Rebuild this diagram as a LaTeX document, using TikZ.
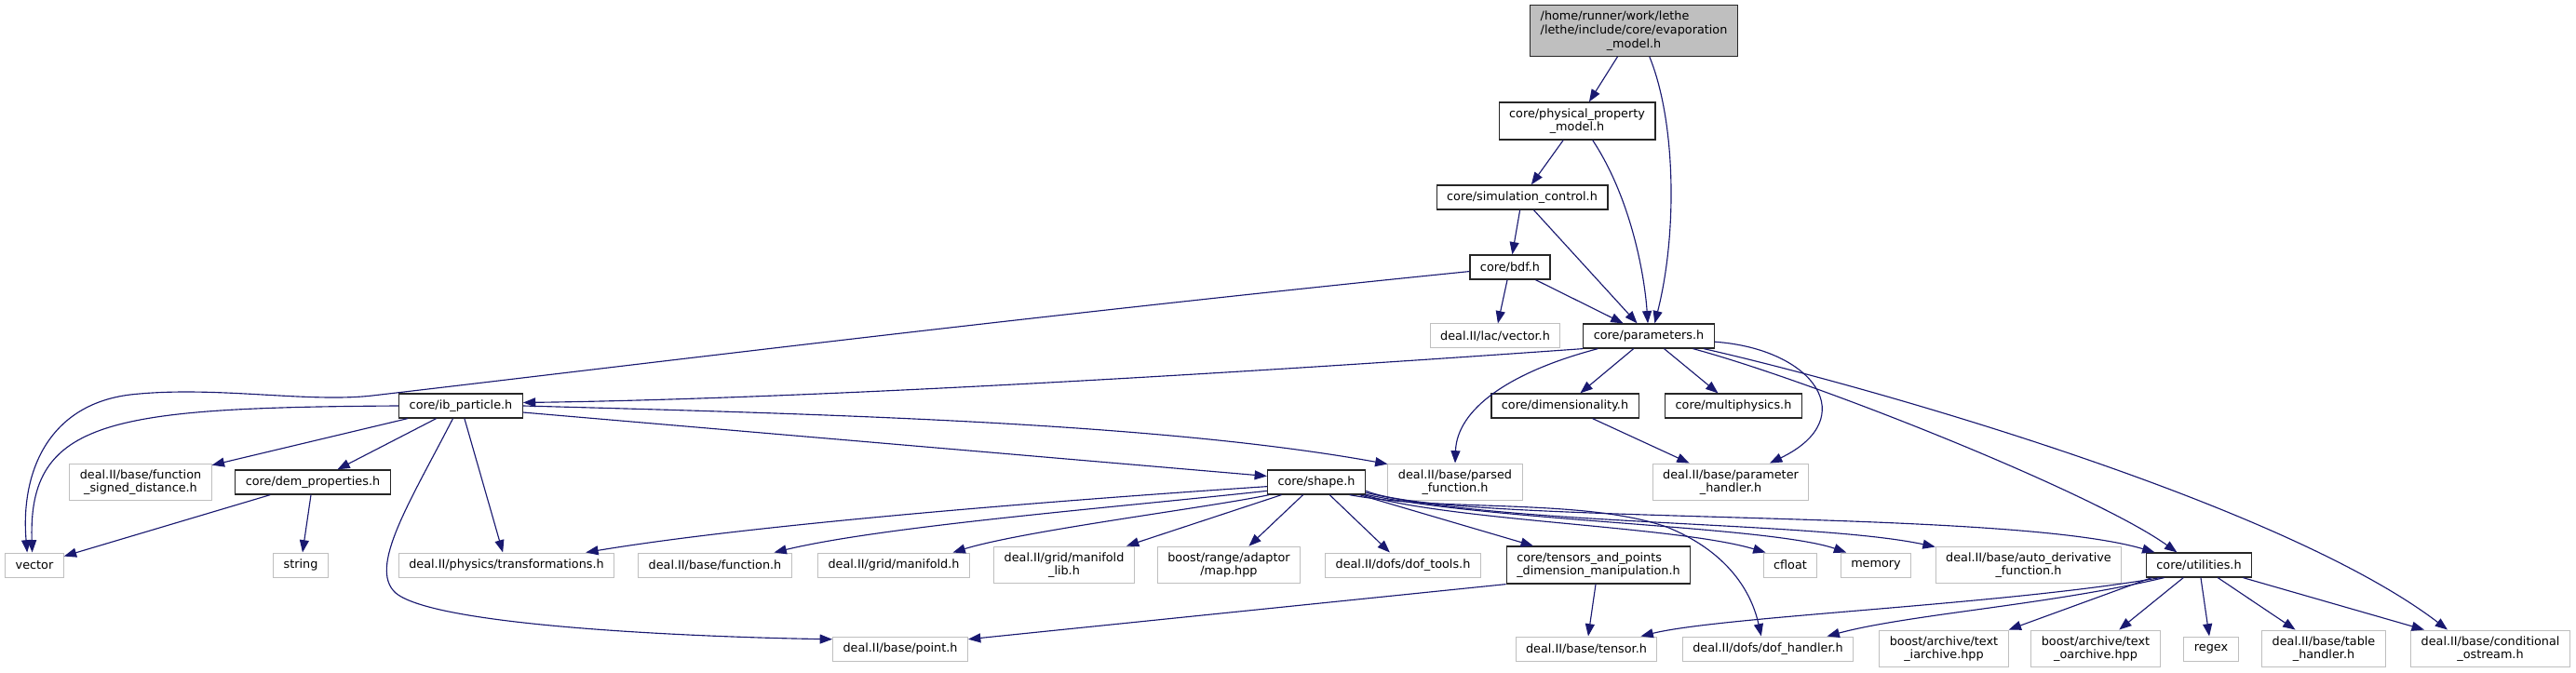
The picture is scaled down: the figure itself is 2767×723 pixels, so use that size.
\documentclass[tikz,border=0pt]{standalone}
\usepackage{fontspec}
\setmainfont{DejaVu Sans}
\usetikzlibrary{arrows.meta}
\definecolor{edgeblue}{RGB}{25,25,112}
\definecolor{extgray}{RGB}{191,191,191}
\definecolor{rootgray}{RGB}{191,191,191}

\begin{document}
\begin{tikzpicture}[
        x=0.75pt, y=-0.75pt,
        file/.style={draw, align=center, font=\fontsize{9.6}{11}\selectfont, inner xsep=8.25pt, inner ysep=4.7pt, minimum height=19.5pt, line width=0.75pt},
        box/.style={file, draw=black!85, line width=0.95pt},
        extbox/.style={file, draw=extgray},
        rootbox/.style={box, fill=rootgray},
        dep/.style={draw=edgeblue, line width=0.85pt, -{Triangle[length=10pt,width=7.5pt]}}
    ]
    \useasboundingbox (0,0) rectangle (2767,723);

    \node[rootbox] (evap) at (1755,33) {\rlap{/home/runner/work/lethe}\phantom{/lethe/include/core/evaporation}\\/lethe/include/core/evaporation\\\_model.h};
    \node[box] (physprop) at (1694,130) {core/physical\_property\\\_model.h};
    \node[box] (simctrl) at (1635,212) {core/simulation\_control.h};
    \node[box] (bdf) at (1622,287) {core/bdf.h};
    \node[extbox] (lacvec) at (1606,361) {deal.II/lac/vector.h};
    \node[box] (params) at (1771,361) {core/parameters.h};
    \node[box] (ibpart) at (495,436) {core/ib\_particle.h};
    \node[box] (dimen) at (1681,436) {core/dimensionality.h};
    \node[box] (multiph) at (1862,436) {core/multiphysics.h};
    \node[extbox] (fsd) at (151,518) {deal.II/base/function\\\_signed\_distance.h};
    \node[box] (demprop) at (336,518) {core/dem\_properties.h};
    \node[box] (shapeh) at (1414,518) {core/shape.h};
    \node[extbox] (parsedfn) at (1563,518) {deal.II/base/parsed\\\_function.h};
    \node[extbox] (paramhdl) at (1859,518) {deal.II/base/parameter\\\_handler.h};
    \node[extbox] (vector) at (37,607) {vector};
    \node[extbox] (string) at (323,607) {string};
    \node[extbox] (transf) at (544,607) {deal.II/physics/transformations.h};
    \node[extbox] (function) at (768,607) {deal.II/base/function.h};
    \node[extbox] (manifold) at (960,607) {deal.II/grid/manifold.h};
    \node[extbox] (manifoldlib) at (1143,607) {deal.II/grid/manifold\\\_lib.h};
    \node[extbox] (rangemap) at (1320,607) {boost/range/adaptor\\/map.hpp};
    \node[extbox] (doftools) at (1507,607) {deal.II/dofs/dof\_tools.h};
    \node[box] (tensorsdim) at (1717,607) {\rlap{core/tensors\_and\_points}\phantom{\_dimension\_manipulation.h}\\\_dimension\_manipulation.h};
    \node[extbox] (cfloat) at (1923,607) {cfloat};
    \node[extbox] (memory) at (2015,607) {memory};
    \node[extbox] (autoderiv) at (2179,607) {deal.II/base/auto\_derivative\\\_function.h};
    \node[box] (utilities) at (2362,607) {core/utilities.h};
    \node[extbox] (pointh) at (967,697) {deal.II/base/point.h};
    \node[extbox] (tensorh) at (1704,697) {deal.II/base/tensor.h};
    \node[extbox] (dofhandler) at (1899,697) {deal.II/dofs/dof\_handler.h};
    \node[extbox] (iarchive) at (2088,697) {boost/archive/text\\\_iarchive.hpp};
    \node[extbox] (oarchive) at (2251,697) {boost/archive/text\\\_oarchive.hpp};
    \node[extbox] (regex) at (2375,697) {regex};
    \node[extbox] (tablehdl) at (2496,697) {deal.II/base/table\\\_handler.h};
    \node[extbox] (condostream) at (2675,697) {deal.II/base/conditional\\\_ostream.h};

    \draw[dep] (evap) -- (physprop);
    \draw[dep] (evap.-59) .. controls (1800,130) and (1802,250) .. (params.65);
    \draw[dep] (physprop) -- (simctrl);
    \draw[dep] (physprop.-51) .. controls (1750,210) and (1766,290) .. (params.94);
    \draw[dep] (simctrl) -- (bdf);
    \draw[dep] (simctrl) -- (params);
    \draw[dep] (bdf) -- (lacvec);
    \draw[dep] (bdf) -- (params);
    \draw[dep] (bdf.186) .. controls (1100,340) and (700,390) .. (400,425) .. controls (330,433) and (230,414) .. (140,424) .. controls (50,435) and (22,510) .. (vector.120);
    \draw[dep] (params.south west) .. controls (1400,396) and (900,428) .. (ibpart.3);
    \draw[dep] (params.194) .. controls (1620,400) and (1565,440) .. (parsedfn.north);
    \draw[dep] (params) -- (dimen);
    \draw[dep] (params) -- (multiph);
    \draw[dep] (params.-5) .. controls (1950,375) and (2000,450) .. (paramhdl.26);
    \draw[dep] (params.-16) .. controls (1950,410) and (2250,530) .. (utilities.150);
    \draw[dep] (params.-13.5) .. controls (2000,413) and (2450,540) .. (condostream.156);
    \draw[dep] (dimen) -- (paramhdl);
    \draw[dep] (ibpart.west) .. controls (120,438) and (30,450) .. (vector.100);
    \draw[dep] (ibpart) -- (fsd);
    \draw[dep] (ibpart) -- (demprop);
    \draw[dep] (ibpart.-122) .. controls (440,540) and (395,610) .. (425,637) .. controls (470,675) and (780,685) .. (pointh.172);
    \draw[dep] (ibpart) -- (transf);
    \draw[dep] (ibpart.-6) -- (shapeh.173);
    \draw[dep] (ibpart.east) .. controls (900,445) and (1250,455) .. (parsedfn.165);
    \draw[dep] (demprop) -- (vector);
    \draw[dep] (demprop) -- (string);
    \draw[dep] (shapeh.185) .. controls (1100,540) and (800,565) .. (transf.9.5);
    \draw[dep] (shapeh.190) .. controls (1200,545) and (950,565) .. (function.12.6);
    \draw[dep] (shapeh.195) .. controls (1300,545) and (1100,570) .. (manifold.12.6);
    \draw[dep] (shapeh.-160) -- (manifoldlib.17.6);
    \draw[dep] (shapeh) -- (rangemap);
    \draw[dep] (shapeh) -- (doftools);
    \draw[dep] (shapeh) -- (tensorsdim);
    \draw[dep] (shapeh.-15) .. controls (1560,560) and (1800,565) .. (cfloat.153);
    \draw[dep] (shapeh.-14) .. controls (1600,560) and (1900,565) .. (memory.157);
    \draw[dep] (shapeh.-12) .. controls (1620,565) and (1950,560) .. (autoderiv.169);
    \draw[dep] (shapeh.-10) .. controls (1560,565) and (2150,545) .. (utilities.164);
    \draw[dep] (shapeh.-21) .. controls (1550,550) and (1700,535) .. (1790,566) .. controls (1850,590) and (1880,630) .. (dofhandler.118);
    \draw[dep] (tensorsdim.south west) -- (pointh.8);
    \draw[dep] (tensorsdim) -- (tensorh);
    \draw[dep] (utilities.-162) .. controls (2150,650) and (1850,662) .. (tensorh.13);
    \draw[dep] (utilities.-160) .. controls (2200,650) and (2050,660) .. (dofhandler.12);
    \draw[dep] (utilities.-165) -- (iarchive.north east);
    \draw[dep] (utilities) -- (oarchive);
    \draw[dep] (utilities) -- (regex);
    \draw[dep] (utilities) -- (tablehdl);
    \draw[dep] (utilities) -- (condostream);
\end{tikzpicture}
\end{document}
